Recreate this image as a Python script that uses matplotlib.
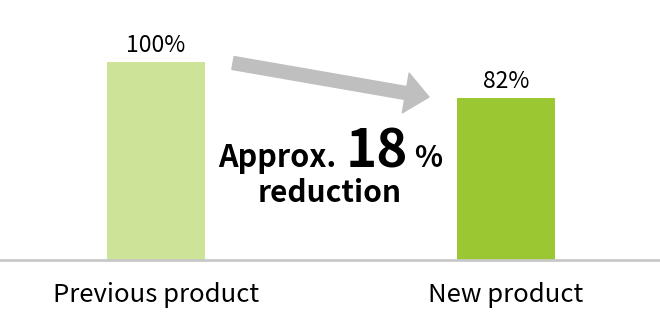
import matplotlib.pyplot as plt
from matplotlib.patches import FancyArrowPatch

plt.rcParams['font.family'] = ['Noto Sans CJK JP', 'DejaVu Sans']

products = ["Previous product", "New product"]
values = [100, 82]
labels = ["100%", "82%"]
colors = ["#cde397", "#9bc832"]

fig = plt.figure(figsize=(6.6, 3.3), dpi=100)
# baseline at 70 px from bottom, axes fills the rest
ax = fig.add_axes([0, 70/330, 1, 260/330])
x = [0, 1]
ax.bar(x, values, width=0.28, color=colors, zorder=2)
ax.set_xlim(-156/350, 504/350)
ax.set_ylim(0, 100*260/198)
for s in ax.spines.values():
    s.set_visible(False)
ax.set_xticks([])
ax.set_yticks([])
ax.axhline(0, color="#c8c8c8", lw=2, zorder=3, clip_on=False)

for xi, v, lab in zip(x, values, labels):
    ax.text(xi, v + 5, lab, ha="center", va="baseline", fontsize=16.5)

for xi, name in zip(x, products):
    ax.text(xi, -21.2, name, ha="center", va="baseline", fontsize=18.5)

# arrow between the bars
arr = FancyArrowPatch((0.22, 99.5), (0.78, 82.3),
                      arrowstyle="simple,head_length=1.7,head_width=2.9,tail_width=0.94",
                      mutation_scale=10, color="#bfbfbf", shrinkA=0, shrinkB=0, zorder=1)
ax.add_patch(arr)

# reduction label
fig.text(336/660, 1 - 167/330, "Approx.", ha="right", va="baseline",
         fontsize=22, fontweight="bold")
fig.text(346/660, 1 - 167/330, "18", ha="left", va="baseline",
         fontsize=38, fontweight="bold")
fig.text(414/660, 1 - 167/330, "%", ha="left", va="baseline",
         fontsize=21, fontweight="bold")
fig.text(330/660, 1 - 202/330, "reduction", ha="center", va="baseline",
         fontsize=21.5, fontweight="bold")

plt.savefig("out.png", dpi=100)
